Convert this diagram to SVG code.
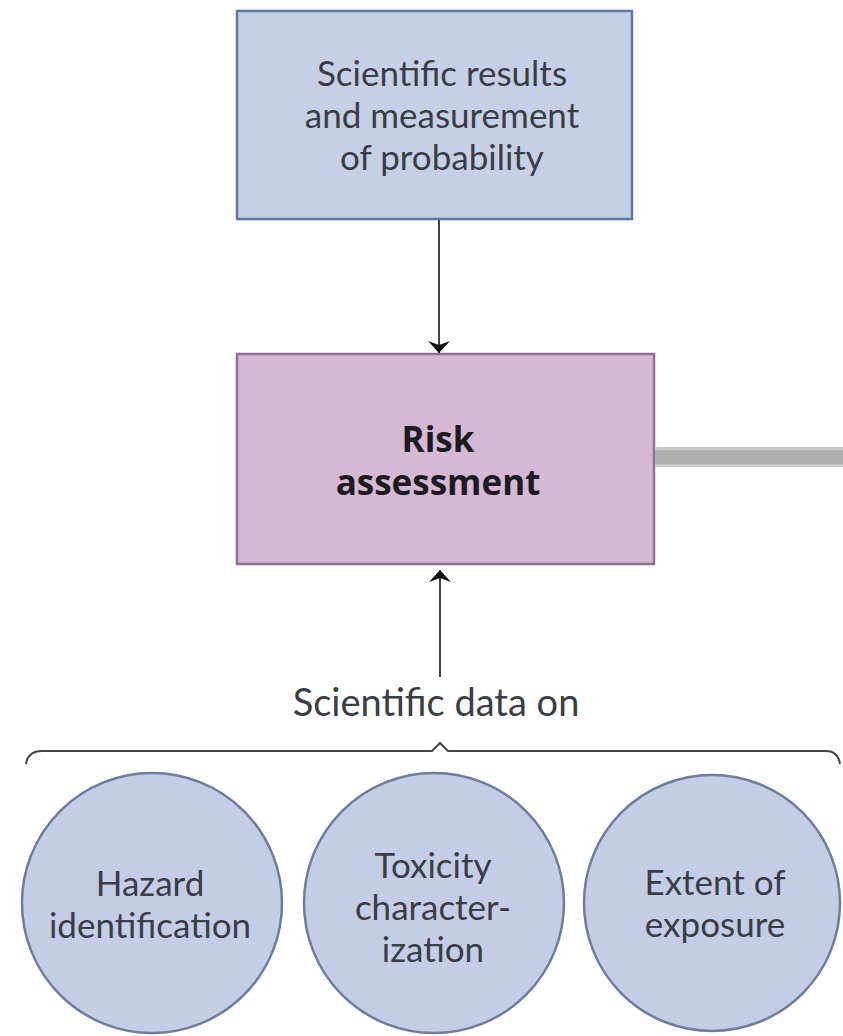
<svg xmlns="http://www.w3.org/2000/svg" width="843" height="1036" viewBox="0 0 843 1036">
  <defs>
    <marker id="ah" viewBox="0 0 12 22" refX="12" refY="11" markerWidth="12" markerHeight="22" markerUnits="userSpaceOnUse" orient="auto">
      <path d="M0,0 L12,11 L0,22 L4,11 Z" fill="#111"/>
    </marker>
    <style>
      .t { font-family: Lato, "Open Sans", "Liberation Sans", sans-serif; font-size: 38px; fill: #3a3d44; text-anchor: middle; font-weight: 400; }
      .c { font-family: Lato, "Open Sans", "Liberation Sans", sans-serif; font-size: 35px; fill: #3a3d44; text-anchor: middle; font-weight: 400; }
      .b { font-family: "Open Sans", "Noto Sans", "Liberation Sans", sans-serif; font-size: 35px; fill: #1e1a22; text-anchor: middle; font-weight: 700; }
      .circ { fill: #c3cde6; stroke: #6f7d9c; stroke-width: 2.5; }
      .conn { stroke: #444; stroke-width: 2; fill: none; }
    </style>
  </defs>
  <rect width="843" height="1036" fill="#ffffff"/>

  <g id="science">
    <rect x="237" y="11" width="395" height="208" fill="#c5d0e7" stroke="#5b7aa6" stroke-width="2.5"/>
    <text class="c" x="442" y="86">Scientific results</text>
    <text class="c" x="442" y="128">and measurement</text>
    <text class="c" x="442" y="170">of probability</text>
  </g>

  <g id="risk">
    <rect x="237" y="354" width="417" height="210" fill="#d5b8d4" stroke="#8e7190" stroke-width="2.5"/>
    <text class="b" x="438" y="452">Risk</text>
    <text class="b" x="438" y="495">assessment</text>
  </g>

  <g id="bar">
    <rect x="655" y="447" width="188" height="20" fill="#c8c8c8"/>
    <rect x="655" y="450" width="188" height="14" fill="#b0b0b0"/>
  </g>

  <g id="label">
    <text class="t" x="436" y="716">Scientific data on</text>
  </g>

  <g id="hazard">
    <circle class="circ" cx="152" cy="903" r="130"/>
    <text class="c" x="150" y="896">Hazard</text>
    <text class="c" x="150" y="938">identification</text>
  </g>

  <g id="toxicity">
    <circle class="circ" cx="434" cy="903" r="130"/>
    <text class="c" x="433" y="878">Toxicity</text>
    <text class="c" x="433" y="920">character-</text>
    <text class="c" x="433" y="962">ization</text>
  </g>

  <g id="exposure">
    <circle class="circ" cx="712" cy="903" r="128"/>
    <text class="c" x="715" y="895">Extent of</text>
    <text class="c" x="715" y="937">exposure</text>
  </g>

  <g id="connectors">
    <line class="conn" x1="439" y1="220" x2="439" y2="353" marker-end="url(#ah)"/>
    <line class="conn" x1="440" y1="677" x2="440" y2="570" marker-end="url(#ah)" stroke-width="1.5"/>
    <path class="conn" stroke="#555" stroke-width="3" d="M26,764 Q28,751 42,751 L432,751 L440,743 L448,751 L826,751 Q838,751 840,764"/>
  </g>
</svg>
